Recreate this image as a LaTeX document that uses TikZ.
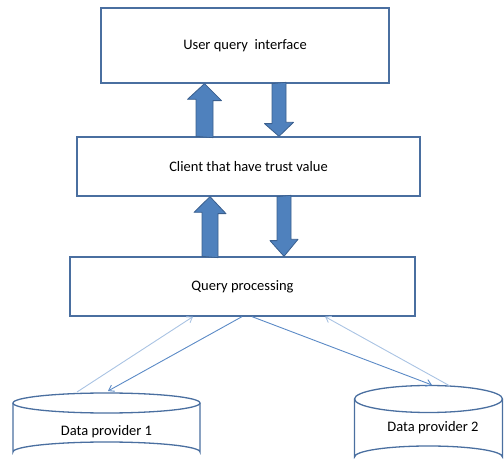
\documentclass[tikz,border=0pt]{standalone}
\usepackage{fontspec}
\setmainfont{Carlito}
\usetikzlibrary{positioning, calc}
\usetikzlibrary{arrows.meta}
\definecolor{boxline}{HTML}{4A6FA0}
\definecolor{blkfill}{HTML}{4F81BD}
\definecolor{blkline}{HTML}{3A5F8E}
\definecolor{linkdark}{HTML}{5B8AC6}
\definecolor{linklight}{HTML}{A9C3E3}

\begin{document}
\begin{tikzpicture}[x=1pt,y=-1pt]
	\def \rowone{45.5}
	\def \rowtwo{166.5}
	\def \rowthree{286.5}
	\tikzstyle{q-box}=[draw=boxline,line width=1.3pt,text centered,inner sep=0pt,font=\fontsize{14.5}{17}\selectfont]
	\tikzstyle{dp-text}=[text centered,inner sep=0pt,font=\fontsize{14.5}{17}\selectfont]
	\tikzstyle{drum}=[draw=boxline,line width=1.3pt]
	\tikzstyle{blk}=[draw=blkline,fill=blkfill,line width=0.8pt,line join=round]
	\tikzstyle{link}=[draw=linkdark,line width=0.9pt,-{Straight Barb[length=5pt,width=7pt]}]
	\tikzstyle{linklt}=[link,draw=linklight]
	\useasboundingbox (0,0) rectangle (504,470);

	% boxes
	\node[q-box,minimum width=288pt,minimum height=75pt] (uqi)	at (245,\rowone)	{User query\ \ interface};
	\node[q-box,minimum width=343pt,minimum height=59pt] (client)	at (248.5,\rowtwo)	{Client that have trust value};
	\node[q-box,minimum width=345pt,minimum height=59pt] (qp)	at (242.5,\rowthree)	{Query processing};

	% data providers
	\draw[drum] (106.5,403) ellipse [x radius=93.5, y radius=10];
	\draw[drum] (13,403) -- (13,452) arc [start angle=180, end angle=360, x radius=93.5, y radius=10] -- (200,403);
	\draw[drum] (428.5,399) ellipse [x radius=74, y radius=13.5];
	\draw[drum] (354.5,399) -- (354.5,457) arc [start angle=180, end angle=360, x radius=74, y radius=11] -- (502.5,399);
	\node[dp-text] (dp1) at (106.5,432) {Data provider 1};
	\node[dp-text] (dp2) at (433,428) {Data provider 2};

	% x positions of the block arrows
	\coordinate (ua) at (204.5,0);
	\coordinate (da) at (279,0);
	\coordinate (ub) at (210,0);
	\coordinate (db) at (284,0);

	\draw[blk] (client.north -| ua) ++(-8.5,0) -- ++(0,-37) -- ++(-8.5,0) -- (uqi.south -| ua) -- ++(17,17) -- ++(-8.5,0) -- ++(0,37) -- cycle;
	\draw[blk] (uqi.south -| da) ++(-7,0) -- ++(0,40) -- ++(-7.5,0) -- (client.north -| da) -- ++(14.5,-14) -- ++(-7.5,0) -- ++(0,-40) -- cycle;
	\draw[blk] (qp.north -| ub) ++(-8,0) -- ++(0,-44) -- ++(-8,0) -- (client.south -| ub) -- ++(16,17) -- ++(-8,0) -- ++(0,44) -- cycle;
	\draw[blk] (client.south -| db) ++(-7,0) -- ++(0,44) -- ++(-7,0) -- (qp.north -| db) -- ++(14,-17) -- ++(-7,0) -- ++(0,-44) -- cycle;

	% thin links
	\coordinate (p1a) at (77,392);
	\coordinate (p1b) at (108,391);
	\coordinate (p2a) at (432,385);
	\coordinate (p2b) at (450,386);
	\coordinate (qa) at (193,0);
	\coordinate (qb) at (242,0);
	\coordinate (qc) at (252,0);
	\coordinate (qd) at (325,0);

	\draw[linklt] (p1a) -- (qp.south -| qa);
	\draw[link] (qp.south -| qb) -- (p1b);
	\draw[link] (qp.south -| qc) -- (p2a);
	\draw[linklt] (p2b) -- (qp.south -| qd);
\end{tikzpicture}
\end{document}
